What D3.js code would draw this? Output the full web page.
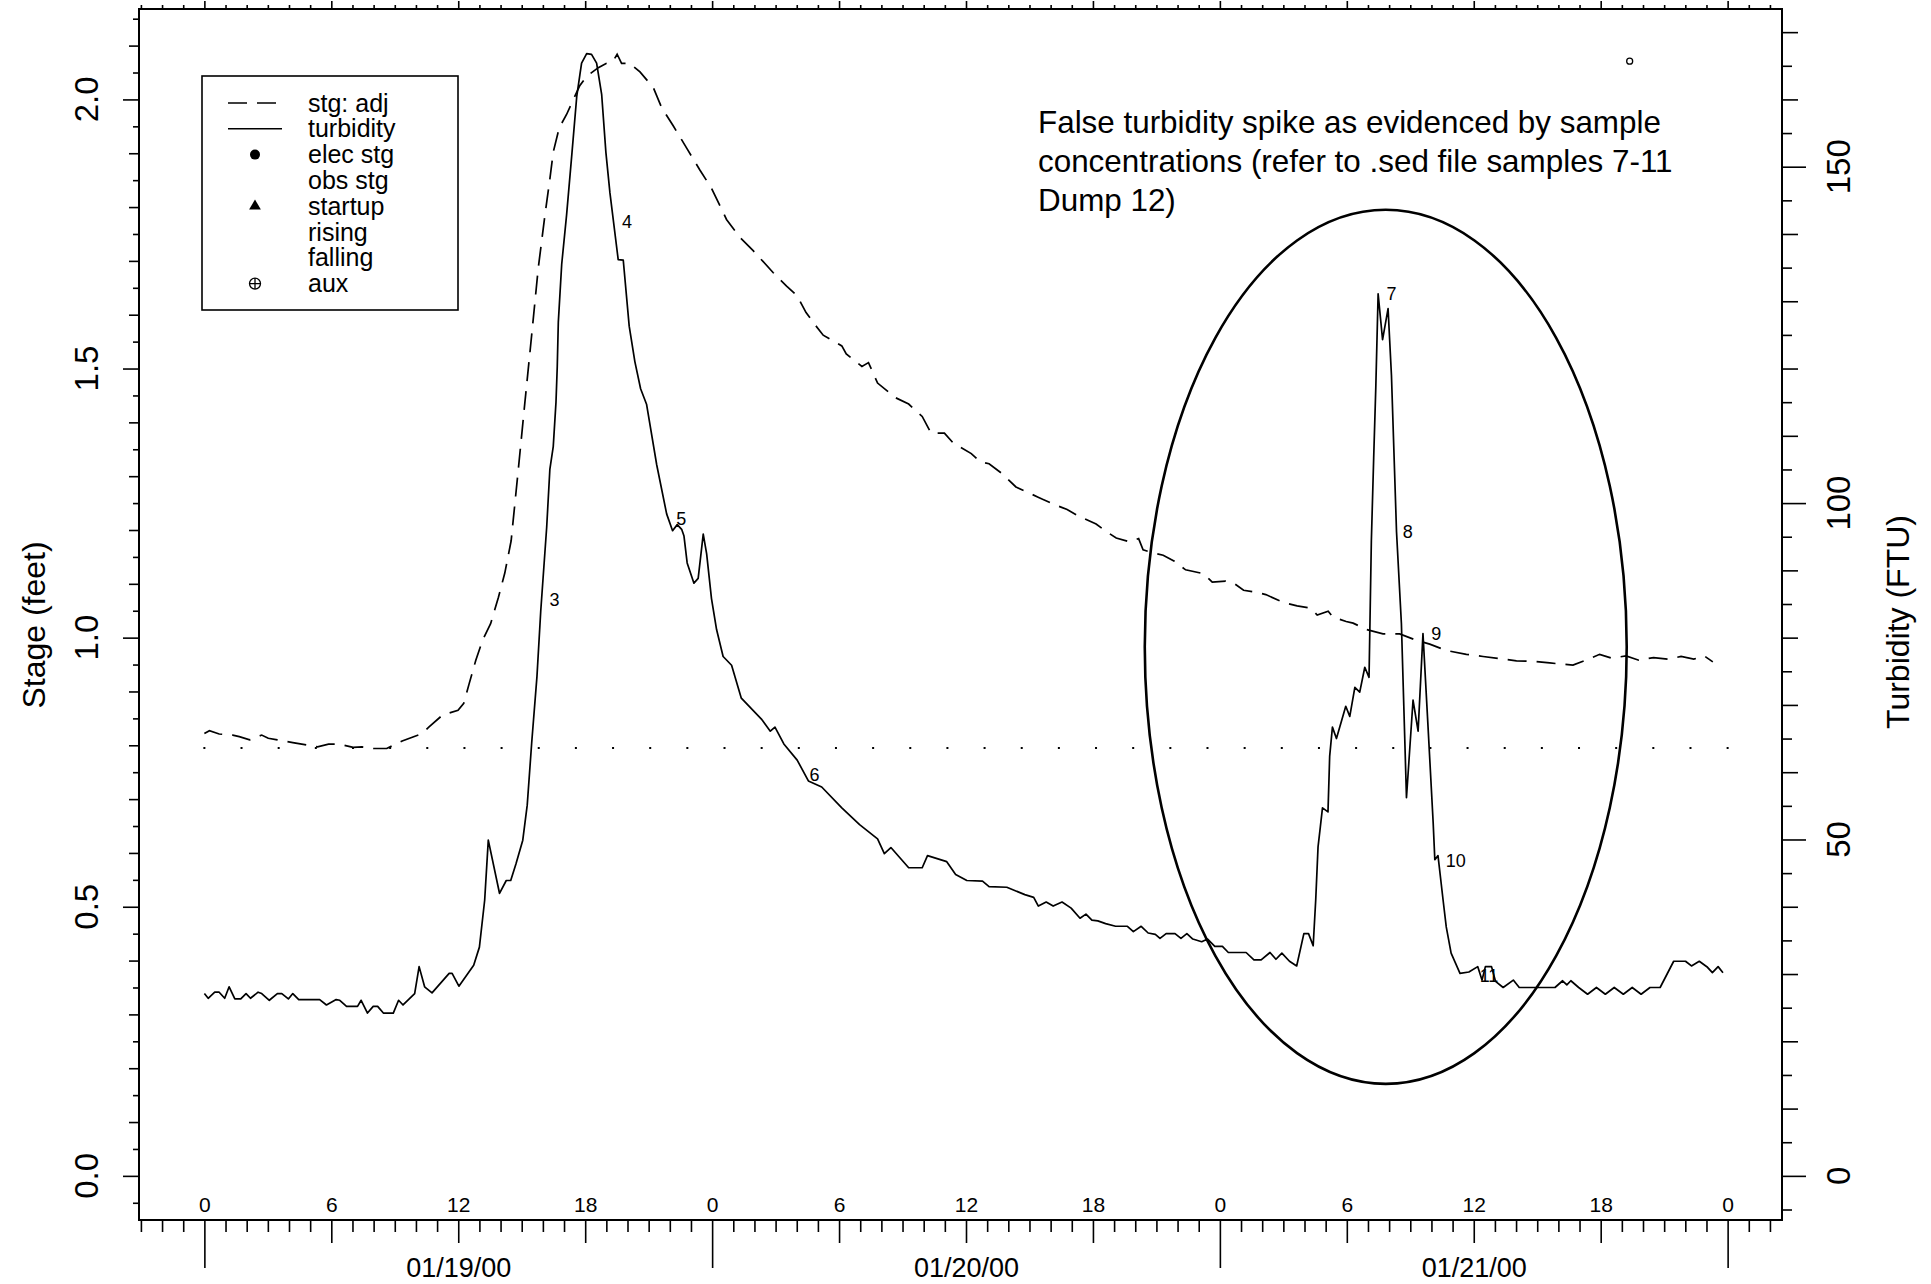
<!DOCTYPE html>
<html>
<head>
<meta charset="utf-8">
<script src="https://cdn.jsdelivr.net/npm/d3@7"></script>
<style>
body { margin: 0; background: #fff; }
text { font-family: "Liberation Sans", Arial, Helvetica, sans-serif; fill: #000; }
</style>
</head>
<body>
<div id="chart"></div>
<script>
//hours since 01/19/00 0:00 and turbidity (FTU)
var turbHours = [0,0.18,0.49,0.7,0.96,1.17,1.44,1.72,1.97,2.18,2.54,2.71,3.07,3.45,3.66,3.97,4.18,4.46,5.45,5.77,
  6.23,6.4,6.72,7.24,7.41,7.71,7.98,8.19,8.46,8.93,9.18,9.39,9.94,10.15,10.41,10.76,11.57,11.71,12.03,12.73,
  13,13.25,13.42,13.95,14.27,14.48,14.73,15.05,15.26,15.47,15.72,15.9,16.18,16.33,16.49,16.62,16.68,16.73,16.89,17.12,
  17.36,17.6,17.75,17.83,18.07,18.3,18.54,18.78,18.98,19.17,19.56,19.8,20.08,20.35,20.62,20.9,21.38,21.85,22.13,22.35,
  22.56,22.67,22.82,23.14,23.34,23.58,23.74,23.97,24.21,24.52,24.92,25.38,26.33,26.75,26.97,27.39,28.02,28.55,29.18,30.13,
  30.97,31.82,32.14,32.45,33.29,33.93,34.18,35.09,35.51,36.04,36.78,37.09,37.93,38.78,39.2,39.42,39.79,40.12,40.54,40.97,
  41.39,41.67,41.95,42.23,42.6,43.07,43.63,43.91,44.28,44.61,44.95,45.17,45.46,45.88,46.16,46.44,46.72,47.14,47.42,47.76,
  48.12,48.4,49.24,49.61,49.95,50.37,50.65,50.93,51.29,51.63,51.97,52.19,52.41,52.53,52.64,52.75,52.85,53.11,53.19,53.32,
  53.51,53.95,54.14,54.38,54.61,54.85,55.05,55.16,55.27,55.37,55.48,55.69,55.95,56.11,56.35,56.58,56.82,57.13,57.37,57.6,
  57.84,58.08,58.16,58.31,58.55,58.7,58.93,59.35,59.77,60.19,60.39,60.55,60.84,61.03,61.39,61.87,62.15,63.84,64.2,64.4,
  64.59,64.96,65.38,65.8,66.22,66.64,67.07,67.49,67.91,68.33,68.81,69.45,70.01,70.29,70.66,71.05,71.28,71.55,71.78];
var turbValues = [27.1,26.4,27.3,27.3,26.4,28.1,26.3,26.3,27.1,26.4,27.3,27.1,26.1,27.1,27.1,26.3,27.1,26.2,26.2,25.4,
  26.2,26.1,25.2,25.2,26.1,24.2,25.2,25.2,24.2,24.2,26.1,25.4,27.1,31.1,28.1,27.2,30.1,30.1,28.2,31.3,
  34,41,49.9,42,43.9,43.9,46.4,49.9,55.1,64.3,74.2,84,96.4,105,108.4,115,120.3,126.9,135.5,142.8,
  151.5,160.4,163.7,165.4,166.8,166.7,165.4,160.7,152.1,146.1,136.2,136.1,126.3,121,117,114.7,105.7,98.4,95.9,96.8,
  96.1,95.1,91.1,88.1,88.8,95.4,92.5,85.8,81.2,77.2,75.9,71,67.9,66.1,66.7,64.2,61.8,58.7,57.8,54.7,
  52.2,50.1,47.9,48.8,45.8,45.8,47.6,46.7,44.8,43.9,43.8,43,42.9,41.8,41.4,40.1,40.7,40.1,40.7,39.8,
  38.3,38.9,38,37.9,37.5,37.1,37.1,36.3,37.1,36.1,35.9,35.3,36,36,35.3,36,35.2,34.8,35.2,34.1,
  34.1,33.2,33.2,32.1,32.1,33.2,32.2,33.1,31.9,31.2,36,36,34.2,41,48.9,51.9,54.7,54.1,62.4,66.7,
  65,69.8,68.3,72.6,71.9,75.6,74.1,94.4,106.7,117.2,131.1,124.3,128.9,119,95.7,82.1,56.2,70.7,66.1,80.6,
  66.7,52.6,47,47.6,41,37,33.1,30.1,30.3,31.1,29.1,31.1,31.1,28.9,28,29.1,28,28,29,28.4,
  29,28,27,28,27,28,27,28,27,28,28,31.9,31.9,31.2,31.9,31,30.2,31.1,30.2];

//hours and adjusted stage (feet) for the dashed trace
var stageHours = [0,0.24,0.7,1.34,1.65,2.14,2.71,3.02,3.45,4.18,4.92,5.35,5.87,6.4,7.03,7.45,7.98,8.62,9.35,10.3,
  10.62,11.25,11.99,12.26,12.52,12.83,13.15,13.53,13.9,14.2,14.5,14.84,15.15,15.47,15.78,16.1,16.33,16.49,16.77,17.12,
  17.36,17.75,18.07,18.62,19.01,19.32,19.51,19.72,20.11,20.59,21.22,21.61,22.16,22.79,23.42,23.97,24.68,25.31,25.94,26.89,
  27.52,28.02,28.44,28.87,29.25,30.13,30.34,31.08,31.39,31.82,32.66,33.29,33.93,34.35,34.98,35.41,36.25,36.67,37.09,37.73,
  38.36,39.41,39.62,40.26,40.78,41.31,42.15,42.6,43.1,43.74,44.16,44.37,44.9,45.32,45.85,46.38,47.22,47.64,48.27,48.7,
  49.12,49.75,50.17,51.02,51.65,52.28,52.6,53.12,53.35,53.97,54.3,54.93,55.71,56.5,57.29,57.92,58.71,59.65,60.44,61.23,
  62.02,62.8,63.59,64.69,65.48,65.95,66.5,67.2,67.8,68.5,69.2,69.8,70.4,70.9,71.3];
var stageValues = [0.822,0.827,0.821,0.819,0.816,0.81,0.819,0.813,0.81,0.805,0.8,0.797,0.802,0.802,0.796,0.797,0.794,0.794,0.808,0.822,
  0.834,0.856,0.865,0.878,0.915,0.958,0.995,1.026,1.075,1.12,1.18,1.313,1.437,1.562,1.686,1.786,1.852,1.902,1.947,1.972,
  1.993,2.026,2.043,2.059,2.067,2.071,2.084,2.067,2.067,2.051,2.022,1.985,1.951,1.91,1.869,1.835,1.777,1.744,1.719,1.678,
  1.653,1.635,1.604,1.581,1.562,1.542,1.527,1.504,1.511,1.473,1.446,1.434,1.411,1.38,1.38,1.361,1.342,1.327,1.323,1.304,
  1.28,1.261,1.257,1.246,1.238,1.226,1.211,1.198,1.185,1.178,1.184,1.163,1.157,1.153,1.142,1.126,1.119,1.103,1.105,1.1,
  1.088,1.084,1.08,1.065,1.059,1.055,1.042,1.049,1.038,1.03,1.027,1.015,1.007,1.007,0.995,0.988,0.976,0.969,0.965,0.961,
  0.957,0.956,0.953,0.949,0.961,0.969,0.962,0.966,0.958,0.963,0.96,0.965,0.96,0.966,0.955];

//pumped sample numbers and where they are written
var sampleIds = ["3","4","5","6","7","8","9","10","11"];
var sampleHours = [16.31,19.74,22.31,28.6,55.88,56.64,57.99,58.68,60.28];
var sampleFTU = [85.6,141.8,97.7,59.6,131.1,95.8,80.6,46.8,29.8];

//reference stage (dotted) and the lone aux point
var refStage = 0.795;
var refHours = [0, 72];
var refDots = 41;
var auxHour = 67.37, auxStage = 2.071;

//circled region: centre and half widths
var ringHour = 55.84, ringStage = 0.983, ringHalfHours = 11.39, ringHalfStage = 0.812;

//axis labels
var hourTicks = [0,6,12,18,24,30,36,42,48,54,60,66,72];
var dateTicks = [12, 36, 60];
var dateLabels = ["01/19/00", "01/20/00", "01/21/00"];
var stageTicks = [0, 0.5, 1, 1.5, 2];
var turbTicks = [0, 50, 100, 150];

var legendLabels = ["stg: adj","turbidity","elec stg","obs stg","startup","rising","falling","aux"];
var legendSymbols = ["dash","line","dot","","tri","","","aux"];

var noteLines = ["False turbidity spike as evidenced by sample",
  "concentrations (refer to .sed file samples 7-11",
  "Dump 12)"];

//plot frame edges
var frameLeft = 139, frameRight = 1782, frameTop = 9, frameBottom = 1220;

var svg = d3.select("#chart").append("svg")
  .attr("width", 1931)
  .attr("height", 1284);

var x = d3.scaleLinear().domain([-3.09, 74.57]).range([frameLeft, frameRight]);
var yStage = d3.scaleLinear().domain([-0.082, 2.168]).range([frameBottom, frameTop]);
var yTurb = d3.scaleLinear().domain([-0.082 * 80, 2.168 * 80]).range([frameBottom, frameTop]);

//frame
svg.append("rect")
  .attr("x", frameLeft).attr("y", frameTop)
  .attr("width", frameRight - frameLeft).attr("height", frameBottom - frameTop)
  .attr("fill", "none").attr("stroke", "#000").attr("stroke-width", 2);

//helper to draw a set of tick marks with no labels
function ticks(axis, values, size, tx, ty) {
  var g = svg.append("g")
    .attr("transform", "translate(" + tx + "," + ty + ")")
    .call(axis.tickValues(values).tickSize(size).tickSizeOuter(0).tickFormat(""));
  g.select(".domain").remove();
  g.selectAll("line").attr("stroke", "#000").attr("stroke-width", 1.6);
}

var hourAll = d3.range(-3, 75);
ticks(d3.axisBottom(x), hourAll.filter(function(h) { return h % 6 != 0; }), 12, 0, frameBottom);
ticks(d3.axisBottom(x), hourAll.filter(function(h) { return h % 6 == 0 && h % 24 != 0; }), 23, 0, frameBottom);
ticks(d3.axisBottom(x), hourAll.filter(function(h) { return h % 24 == 0; }), 48, 0, frameBottom);
ticks(d3.axisTop(x), hourAll.filter(function(h) { return h % 6 != 0; }), 4, 0, frameTop);
ticks(d3.axisTop(x), hourAll.filter(function(h) { return h % 6 == 0; }), 8, 0, frameTop);

//stage ticks every 0.05 ft
var stageAll = d3.range(-1, 44).map(function(i) { return i * 0.05; });
ticks(d3.axisLeft(yStage), stageAll.filter(function(v, i) { return (i - 1) % 2 != 0; }), 6, frameLeft, 0);
ticks(d3.axisLeft(yStage), stageAll.filter(function(v, i) { return (i - 1) % 2 == 0 && (i - 1) % 10 != 0; }), 10, frameLeft, 0);
ticks(d3.axisLeft(yStage), stageAll.filter(function(v, i) { return (i - 1) % 10 == 0; }), 16, frameLeft, 0);

//turbidity ticks every 5 FTU
var turbAll = d3.range(-5, 175, 5);
ticks(d3.axisRight(yTurb), turbAll.filter(function(v) { return v % 10 != 0; }), 10, frameRight, 0);
ticks(d3.axisRight(yTurb), turbAll.filter(function(v) { return v % 10 == 0 && v % 50 != 0; }), 16, frameRight, 0);
ticks(d3.axisRight(yTurb), turbAll.filter(function(v) { return v % 50 == 0; }), 24, frameRight, 0);

//hour numbers just inside the bottom edge
var hourAxis = svg.append("g")
  .attr("transform", "translate(0," + frameBottom + ")")
  .call(d3.axisTop(x).tickValues(hourTicks).tickSize(0).tickPadding(8)
    .tickFormat(function(h) { return h % 24; }));
hourAxis.select(".domain").remove();
hourAxis.attr("font-family", null).attr("font-size", null);
hourAxis.selectAll("text").style("font-size", "21px");

//dates under the axis
var dateAxis = svg.append("g")
  .attr("transform", "translate(0," + frameBottom + ")")
  .call(d3.axisBottom(x).tickValues(dateTicks).tickSize(0).tickPadding(38)
    .tickFormat(function(h, i) { return dateLabels[i]; }));
dateAxis.select(".domain").remove();
dateAxis.attr("font-family", null).attr("font-size", null);
dateAxis.selectAll("text").style("font-size", "27px");

//rotated y tick labels
svg.selectAll(".stagelab").data(stageTicks).enter().append("text")
  .attr("transform", function(v) { return "translate(86," + yStage(v) + ") rotate(-90)"; })
  .attr("text-anchor", "middle").attr("dy", "0.36em")
  .style("font-size", "33px")
  .text(function(v) { return v.toFixed(1); });

svg.selectAll(".turblab").data(turbTicks).enter().append("text")
  .attr("transform", function(v) { return "translate(1838," + yTurb(v) + ") rotate(-90)"; })
  .attr("text-anchor", "middle").attr("dy", "0.36em")
  .style("font-size", "33px")
  .text(function(v) { return v; });

svg.append("text")
  .attr("transform", "translate(33,625) rotate(-90)")
  .attr("text-anchor", "middle").attr("dy", "0.36em")
  .style("font-size", "32px")
  .text("Stage (feet)");

svg.append("text")
  .attr("transform", "translate(1897,622) rotate(-90)")
  .attr("text-anchor", "middle").attr("dy", "0.36em")
  .style("font-size", "32px")
  .text("Turbidity (FTU)");

//dotted reference stage, one dot per step so the last lands at the end
var dotStep = (x(refHours[1]) - x(refHours[0])) / refDots;
svg.append("line")
  .attr("x1", x(refHours[0]) - 1).attr("x2", x(refHours[1]) + 1)
  .attr("y1", yStage(refStage)).attr("y2", yStage(refStage))
  .attr("stroke", "#000").attr("stroke-width", 2)
  .attr("stroke-dasharray", "2," + (dotStep - 2));

//stage trace
var stageLine = d3.line()
  .x(function(d, i) { return x(stageHours[i]); })
  .y(function(d) { return yStage(d); });
svg.append("path")
  .attr("d", stageLine(stageValues))
  .attr("fill", "none").attr("stroke", "#000").attr("stroke-width", 1.7)
  .attr("stroke-dasharray", "19,10");

//turbidity trace
var turbLine = d3.line()
  .x(function(d, i) { return x(turbHours[i]); })
  .y(function(d) { return yTurb(d); });
svg.append("path")
  .attr("d", turbLine(turbValues))
  .attr("fill", "none").attr("stroke", "#000").attr("stroke-width", 1.7)
  .attr("stroke-linejoin", "round");

//sample numbers
svg.selectAll(".sample").data(sampleIds).enter().append("text")
  .attr("x", function(d, i) { return x(sampleHours[i]); })
  .attr("y", function(d, i) { return yTurb(sampleFTU[i]); })
  .attr("dy", "0.36em")
  .style("font-size", "18px")
  .text(function(d) { return d; });

//aux point
svg.append("circle")
  .attr("cx", x(auxHour)).attr("cy", yStage(auxStage)).attr("r", 3)
  .attr("fill", "none").attr("stroke", "#000").attr("stroke-width", 1.3);

//circled region
svg.append("ellipse")
  .attr("cx", x(ringHour)).attr("cy", yStage(ringStage))
  .attr("rx", x(ringHour + ringHalfHours) - x(ringHour))
  .attr("ry", yStage(ringStage - ringHalfStage) - yStage(ringStage))
  .attr("fill", "none").attr("stroke", "#000").attr("stroke-width", 2.6);

//note
svg.append("text")
  .attr("x", 1038).attr("y", 133)
  .style("font-size", "31.4px")
  .selectAll("tspan").data(noteLines).enter().append("tspan")
  .attr("x", 1038)
  .attr("dy", function(d, i) { return i == 0 ? 0 : 38.8; })
  .text(function(d) { return d; });

//legend
var legend = svg.append("g").attr("transform", "translate(202,76)");
legend.append("rect")
  .attr("width", 256).attr("height", 234)
  .attr("fill", "#fff").attr("stroke", "#000").attr("stroke-width", 1.6);

var rows = legend.selectAll(".row").data(legendLabels).enter().append("g")
  .attr("transform", function(d, i) { return "translate(0," + (27 + i * 25.8) + ")"; });

rows.append("text")
  .attr("x", 106).attr("dy", "0.34em")
  .style("font-size", "25px")
  .text(function(d) { return d; });

rows.each(function(d, i) {
  var g = d3.select(this);
  var kind = legendSymbols[i];
  if (kind == "dash" || kind == "line") {
    g.append("line").attr("x1", 26).attr("x2", 80).attr("y1", 0).attr("y2", 0)
      .attr("stroke", "#000").attr("stroke-width", 1.6)
      .attr("stroke-dasharray", kind == "dash" ? "19,10" : null);
  } else if (kind == "dot") {
    g.append("circle").attr("cx", 53).attr("r", 5).attr("fill", "#000");
  } else if (kind == "tri") {
    g.append("path").attr("transform", "translate(53,0)")
      .attr("d", d3.symbol(d3.symbolTriangle, 60)).attr("fill", "#000");
  } else if (kind == "aux") {
    g.append("circle").attr("cx", 53).attr("r", 5.5)
      .attr("fill", "none").attr("stroke", "#000").attr("stroke-width", 1.3);
    g.append("path").attr("d", "M47.5,0H58.5M53,-5.5V5.5")
      .attr("stroke", "#000").attr("stroke-width", 1.3);
  }
});
</script>
</body>
</html>
